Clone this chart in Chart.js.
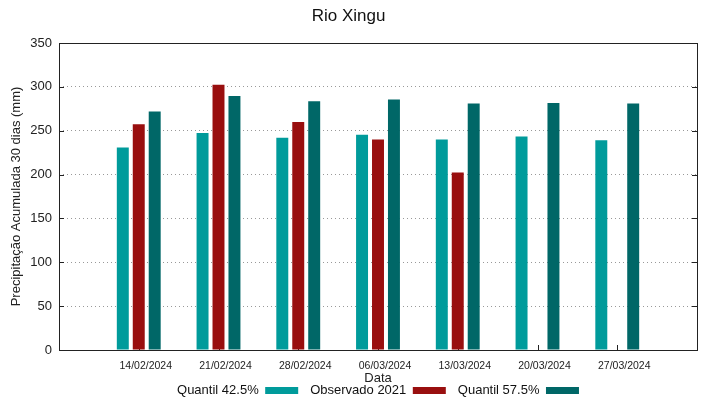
<!DOCTYPE html>
<html lang="pt-BR">
<head>
    <meta charset="UTF-8">
    <title>Rio Xingu</title>
    <script src="https://cdn.jsdelivr.net/npm/chart.js"></script>
    <style>
        body { margin: 0; background: #fff; }
        #wrap { width: 719px; height: 399px; }
    </style>
</head>
<body>
    <div id="wrap"><canvas id="chuva"></canvas></div>
    <script>
        // datas e valores
        const categorias = ['14/02/2024', '21/02/2024', '28/02/2024', '06/03/2024', '13/03/2024', '20/03/2024', '27/03/2024'];
        const quantil425 = [231, 247.5, 242, 245.5, 240, 243.5, 239];
        const observado2021 = [257.5, 302.5, 260, 240, 202.5, null, null];
        const quantil575 = [272, 289.5, 283.5, 285.5, 281, 281.5, 281];
        const yMin = 0, yMax = 350, yPasso = 50;

        // uma categoria vazia em cada ponta, como no gnuplot
        const rotulos = [''].concat(categorias, ['']);
        const pad = arr => [null].concat(arr, [null]);

        const fonte = 'Liberation Sans, Arial, sans-serif';

        // moldura preta e tracinhos dos eixos (por dentro)
        const moldura = {
            id: 'moldura',
            beforeDatasetsDraw(chart) {
                const { ctx, chartArea: a, scales } = chart;
                ctx.save();
                ctx.strokeStyle = '#222';
                ctx.lineWidth = 1;
                ctx.beginPath();
                scales.x.ticks.forEach((t, i) => {
                    if (i === 0 || i === scales.x.ticks.length - 1) return;
                    const x = Math.round(scales.x.getPixelForTick(i)) + 0.5;
                    ctx.moveTo(x, a.bottom);
                    ctx.lineTo(x, a.bottom - 5);
                });
                scales.y.ticks.forEach((t, i) => {
                    const y = Math.round(scales.y.getPixelForTick(i)) + 0.5;
                    ctx.moveTo(a.left, y);
                    ctx.lineTo(a.left + 5, y);
                    ctx.moveTo(a.right, y);
                    ctx.lineTo(a.right - 5, y);
                });
                ctx.stroke();
                ctx.restore();
            },
            afterDatasetsDraw(chart) {
                const { ctx, chartArea: a } = chart;
                ctx.save();
                ctx.strokeStyle = '#222';
                ctx.lineWidth = 1;
                ctx.strokeRect(Math.round(a.left) + 0.5, Math.round(a.top) + 0.5,
                    Math.round(a.right - a.left), Math.round(a.bottom - a.top));
                ctx.restore();
            }
        };

        new Chart(document.getElementById('chuva'), {
            type: 'bar',
            data: {
                labels: rotulos,
                datasets: [
                    { label: 'Quantil 42.5%', data: pad(quantil425), backgroundColor: '#009b9b', borderWidth: 0 },
                    { label: 'Observado 2021', data: pad(observado2021), backgroundColor: '#990f0f', borderWidth: 0 },
                    { label: 'Quantil 57.5%', data: pad(quantil575), backgroundColor: '#006767', borderWidth: 0 }
                ]
            },
            plugins: [moldura],
            options: {
                responsive: true,
                maintainAspectRatio: false,
                animation: false,
                categoryPercentage: 0.6,
                barPercentage: 0.75,
                layout: { padding: { left: 0, right: 22, top: 0, bottom: -8 } },
                plugins: {
                    title: {
                        display: true,
                        text: 'Rio Xingu',
                        color: '#111',
                        font: { family: fonte, size: 17, weight: 'normal' },
                        padding: { top: 6, bottom: 16.6 }
                    },
                    legend: {
                        position: 'bottom',
                        fullSize: false,
                        rtl: true,
                        reverse: true,
                        textDirection: 'ltr',
                        labels: {
                            boxWidth: 33,
                            boxHeight: 7,
                            padding: 12,
                            color: '#111',
                            font: { family: fonte, size: 13 }
                        }
                    },
                    tooltip: { enabled: false }
                },
                scales: {
                    x: {
                        offset: false,
                        grid: { display: false, drawTicks: false },
                        border: { display: false },
                        ticks: {
                            color: '#222',
                            font: { family: fonte, size: 10.5 },
                            padding: 10,
                            labelOffset: 7,
                            maxRotation: 0,
                            autoSkip: false
                        },
                        title: {
                            display: true,
                            text: 'Data',
                            color: '#222',
                            font: { family: fonte, size: 13 },
                            padding: { top: 0, bottom: -13.8 }
                        },
                        afterFit(s) { s.height = 22; }
                    },
                    y: {
                        min: yMin,
                        max: yMax,
                        grid: { color: '#999', drawTicks: false },
                        border: { display: false, dash: [1, 3] },
                        ticks: {
                            stepSize: yPasso,
                            color: '#222',
                            font: { family: fonte, size: 13 },
                            padding: 7
                        },
                        title: {
                            display: true,
                            text: 'Precipitação Acumulada 30 dias (mm)',
                            color: '#222',
                            font: { family: fonte, size: 13 },
                            padding: { top: 9, bottom: 0 }
                        },
                        afterFit(s) { s.width = 59; }
                    }
                }
            }
        });
    </script>
</body>
</html>
